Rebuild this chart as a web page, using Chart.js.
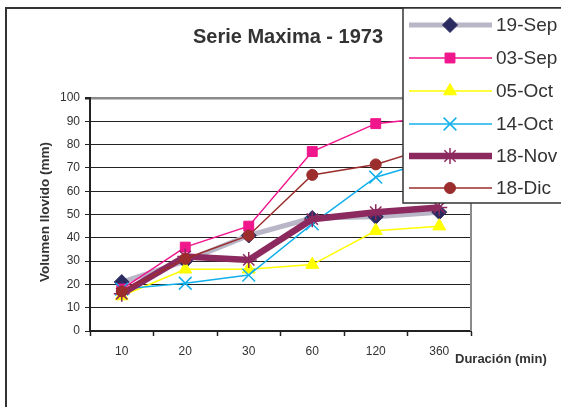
<!DOCTYPE html>
<html lang="es">
<head>
  <meta charset="utf-8">
  <title>Serie Maxima - 1973</title>
  <script src="https://cdn.jsdelivr.net/npm/chart.js@4.4.1/dist/chart.umd.min.js"></script>
  <style>
    html, body { margin: 0; padding: 0; background: #fff; }
    #wrap { width: 561px; height: 407px; }
  </style>
</head>
<body>
  <div id="wrap"><canvas id="chart-maxima" width="561" height="407"></canvas></div>
  <script>
    // datos (mm)
    var duraciones = ['10', '20', '30', '60', '120', '360'];
    var nombres = ['19-Sep', '03-Sep', '05-Oct', '14-Oct', '18-Nov', '18-Dic'];
    var sep19 = [21, 30, 41, 48.5, 49, 51];
    var sep03 = [18, 36, 45, 77, 89, 92];
    var oct05 = [15, 26.5, 26.5, 28.5, 43, 45];
    var oct14 = [18, 20.5, 24, 46, 66, 74];
    var nov18 = [16, 32, 30.5, 48, 51, 53];
    var dic18 = [17, 31, 41, 67, 71.5, 80];
    var yMin = 0, yMax = 100, yPaso = 10;

    var fuente = '"Liberation Sans", Arial, sans-serif';
    var gris = '#333333';

    // estilo de cada serie
    var estilos = [
      { linea: '#b9b6c8', ancho: 5, punto: 'rectRot', radio: 7.5, fondo: '#2b2b62', borde: '#2b2b62', bw: 1 },
      { linea: '#f0168c', ancho: 1.5, punto: 'rect', radio: 7, fondo: '#f0168c', borde: '#f0168c', bw: 1 },
      { linea: '#ffff00', ancho: 1.5, punto: 'triangle', radio: 7.5, fondo: '#ffff00', borde: '#ffff00', bw: 1 },
      { linea: '#13b0ec', ancho: 1.5, punto: 'crossRot', radio: 9, fondo: '#13b0ec', borde: '#13b0ec', bw: 1.5 },
      { linea: '#8c2a5f', ancho: 6.5, punto: 'star', radio: 8, fondo: '#8c2a5f', borde: '#8c2a5f', bw: 1.5 },
      { linea: '#9b2d2d', ancho: 1.5, punto: 'circle', radio: 5.5, fondo: '#9b2d2d', borde: '#9b2d2d', bw: 1 }
    ];
    var series = [sep19, sep03, oct05, oct14, nov18, dic18];

    var datasets = series.map(function (valores, i) {
      var e = estilos[i];
      return {
        label: nombres[i],
        data: valores,
        borderColor: e.linea,
        borderWidth: e.ancho,
        pointStyle: e.punto,
        pointRadius: e.radio,
        pointBackgroundColor: e.fondo,
        pointBorderColor: e.borde,
        pointBorderWidth: e.bw,
        tension: 0,
        fill: false,
        order: series.length - i
      };
    });

    // marco, titulos y leyenda
    var decoracion = {
      id: 'decoracion',
      beforeDatasetsDraw: function (chart) {
        var ctx = chart.ctx, a = chart.chartArea;
        ctx.save();
        // borde derecho gris del area
        ctx.strokeStyle = '#8a8a8a';
        ctx.lineWidth = 2;
        ctx.beginPath();
        ctx.moveTo(a.right, a.top - 1);
        ctx.lineTo(a.right, a.bottom);
        ctx.stroke();
        ctx.restore();
      },
      afterDraw: function (chart) {
        var ctx = chart.ctx;
        ctx.save();

        // marco exterior
        ctx.strokeStyle = '#333';
        ctx.lineWidth = 2;
        ctx.beginPath();
        ctx.moveTo(6, 410);
        ctx.lineTo(6, 8);
        ctx.lineTo(565, 8);
        ctx.stroke();

        // titulo
        ctx.fillStyle = gris;
        ctx.font = 'bold 20px ' + fuente;
        ctx.textAlign = 'center';
        ctx.textBaseline = 'middle';
        ctx.fillText('Serie Maxima - 1973', 288, 37);

        // titulo eje y
        ctx.font = 'bold 13.5px ' + fuente;
        ctx.save();
        ctx.translate(45, 212);
        ctx.rotate(-Math.PI / 2);
        ctx.fillText('Volumen llovido (mm)', 0, 0);
        ctx.restore();

        // titulo eje x
        ctx.font = 'bold 13px ' + fuente;
        ctx.textAlign = 'left';
        ctx.fillText('Duración (min)', 455, 359);

        // leyenda
        ctx.fillStyle = '#fff';
        ctx.fillRect(403, 8, 170, 195);
        ctx.strokeStyle = '#333';
        ctx.lineWidth = 1.5;
        ctx.strokeRect(403, 8, 170, 195);

        var filas = [25, 58, 91, 124, 156, 188];
        nombres.forEach(function (n, i) {
          var e = estilos[i], y = filas[i];
          ctx.strokeStyle = e.linea;
          ctx.lineWidth = e.ancho;
          ctx.lineCap = 'butt';
          ctx.beginPath();
          ctx.moveTo(409, y);
          ctx.lineTo(492, y);
          ctx.stroke();
          ctx.fillStyle = e.fondo;
          ctx.strokeStyle = e.borde;
          ctx.lineWidth = e.bw;
          Chart.helpers.drawPoint(ctx, { pointStyle: e.punto, radius: e.radio, rotation: 0, borderWidth: e.bw }, 450, y);
          ctx.fillStyle = gris;
          ctx.font = '19px ' + fuente;
          ctx.textAlign = 'left';
          ctx.textBaseline = 'middle';
          ctx.fillText(n, 496, y + 1);
        });

        ctx.restore();
      }
    };

    new Chart(document.getElementById('chart-maxima'), {
      type: 'line',
      data: { labels: duraciones, datasets: datasets },
      options: {
        responsive: false,
        animation: false,
        devicePixelRatio: 1,
        layout: { padding: { left: 0, top: 98, right: 90, bottom: 0 } },
        plugins: {
          legend: { display: false },
          title: { display: false },
          tooltip: { enabled: false }
        },
        scales: {
          x: {
            type: 'category',
            offset: true,
            afterFit: function (s) { s.height = 76; },
            grid: {
              offset: true,
              drawOnChartArea: false,
              drawTicks: true,
              tickLength: 5,
              tickColor: '#222',
              tickWidth: 1.5
            },
            border: { display: true, color: '#222', width: 2 },
            ticks: {
              color: gris,
              padding: 8,
              maxRotation: 0,
              font: { family: fuente, size: 12 }
            }
          },
          y: {
            min: yMin,
            max: yMax,
            afterFit: function (s) { s.width = 90; },
            grid: {
              color: function (c) { return c.tick && c.tick.value === yMax ? '#8a8a8a' : '#222'; },
              lineWidth: function (c) { return c.tick && c.tick.value === yMax ? 2.5 : 1; },
              tickColor: '#222',
              tickLength: 5,
              drawTicks: true
            },
            border: { display: true, color: '#222', width: 2 },
            ticks: {
              stepSize: yPaso,
              color: gris,
              padding: 5,
              font: { family: fuente, size: 12 }
            }
          }
        }
      },
      plugins: [decoracion]
    });
  </script>
</body>
</html>
